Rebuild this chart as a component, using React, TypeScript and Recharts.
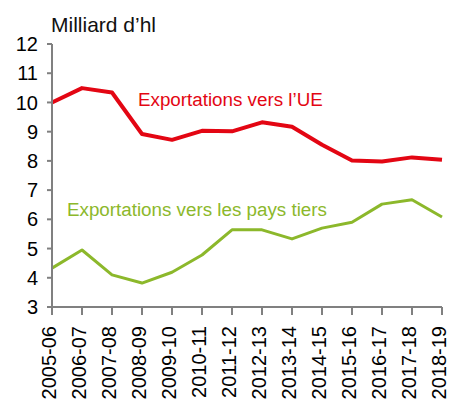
import React from 'react';
import { LineChart, Line, XAxis, YAxis, Customized } from 'recharts';

const categories = ['2005-06','2006-07','2007-08','2008-09','2009-10','2010-11','2011-12','2012-13','2013-14','2014-15','2015-16','2016-17','2017-18','2018-19'];
const euExports = [10.0, 10.49, 10.34, 8.92, 8.72, 9.03, 9.01, 9.32, 9.17, 8.55, 8.01, 7.98, 8.12, 8.04];
const thirdExports = [4.33, 4.95, 4.10, 3.82, 4.19, 4.78, 5.64, 5.64, 5.33, 5.70, 5.90, 6.52, 6.67, 6.08];
const yTicks = [3, 4, 5, 6, 7, 8, 9, 10, 11, 12];

const data = categories.map((c, i) => ({ cat: c, eu: euExports[i], third: thirdExports[i] }));

const RED = '#e30613';
const GREEN = '#8cb82b';
const AXIS = '#808080';
const FONT = 'Liberation Sans, Arial, sans-serif';

const XTick = (props: any) => {
  const { x, y, payload } = props;
  return (
    <g transform={`translate(${x},${y})`}>
      <text transform="rotate(-90)" x={-9} y={0} dy="0.22em" textAnchor="end" fill="#000" fontSize={20} fontFamily={FONT}>
        {payload.value}
      </text>
    </g>
  );
};

const Labels = () => (
  <g fontFamily={FONT}>
    <text x={51} y={32} fontSize={21} fill="#111">Milliard d’hl</text>
    <text x={138} y={105.5} fontSize={18.8} fill={RED}>Exportations vers l’UE</text>
    <text x={67} y={216} fontSize={18.8} fill={GREEN}>Exportations vers les pays tiers</text>
  </g>
);

export default function App() {
  return (
    <div style={{ position: 'absolute', left: 0, top: 0, width: 450, height: 401, background: '#fff' }}>
      <LineChart width={450} height={401} data={data} margin={{ top: 44, right: 8, bottom: 0, left: 0 }}>
        <XAxis
          dataKey="cat"
          interval={0}
          height={94}
          tickSize={8}
          tick={<XTick />}
          axisLine={{ stroke: AXIS, strokeWidth: 2 }}
          tickLine={{ stroke: AXIS, strokeWidth: 2 }}
          padding={{ left: 0, right: 0 }}
        />
        <YAxis
          domain={[3, 12]}
          ticks={yTicks}
          interval={0}
          width={52}
          tickSize={5}
          tickMargin={9}
          axisLine={{ stroke: AXIS, strokeWidth: 2 }}
          tickLine={{ stroke: AXIS, strokeWidth: 2 }}
          tick={{ fill: '#000', fontSize: 20, fontFamily: FONT }}
        />
        <Line dataKey="eu" stroke={RED} strokeWidth={4} dot={false} isAnimationActive={false} strokeLinejoin="round" />
        <Line dataKey="third" stroke={GREEN} strokeWidth={3} dot={false} isAnimationActive={false} strokeLinejoin="round" />
        <Customized component={Labels} />
      </LineChart>
    </div>
  );
}
